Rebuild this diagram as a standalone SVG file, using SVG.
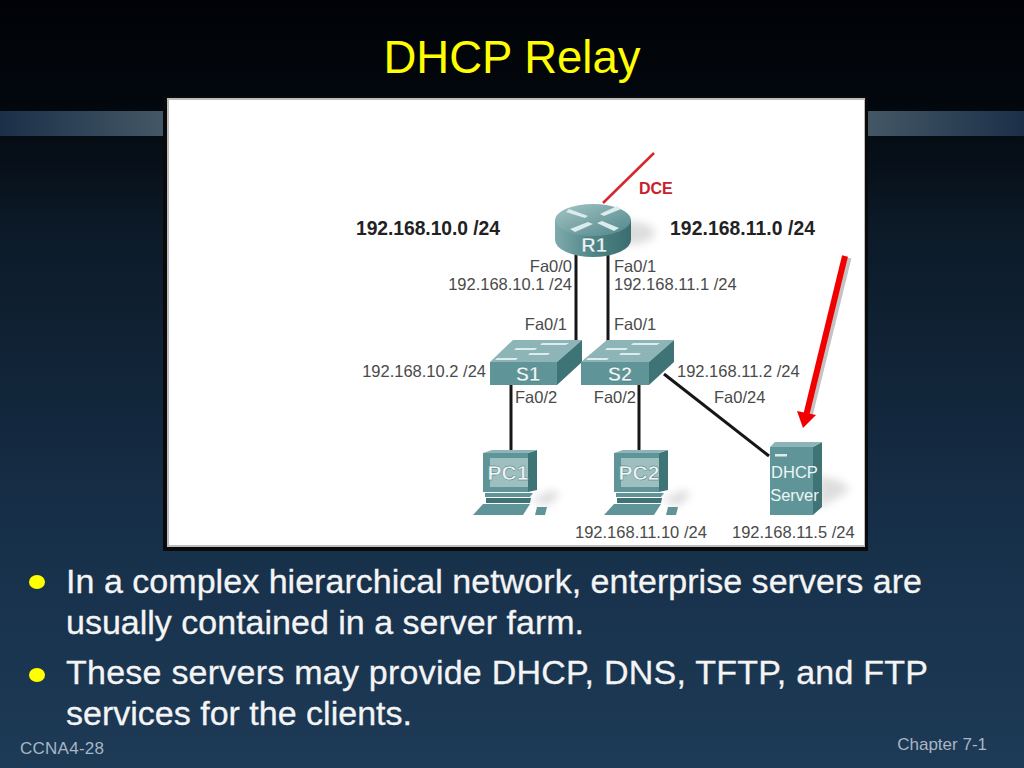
<svg xmlns="http://www.w3.org/2000/svg" width="1024" height="768" viewBox="0 0 1024 768">
<style>
text{font-family:"Liberation Sans",Arial,sans-serif}
.lb{font-size:16.5px;fill:#4a4a4a}
.net{font-size:19.300px;font-weight:bold;fill:#222}
.dev{font-weight:bold;fill:#eef5f5;text-anchor:middle;stroke:#3d6f72;stroke-width:.4px}
.body{font-size:34px;fill:#f4f4f4;stroke:#f4f4f4;stroke-width:.3px}
.foot{font-size:17px;fill:#a9b6c4}
.lnk{stroke:#161616;stroke-width:3;fill:none}
.top{fill:#8db4b6}.front{fill:#5f9598}.side{fill:#3f7477}.scr{fill:#9dbfc0}
.ar{fill:#dcebeb}
</style>
<defs>
<linearGradient id="bg" x1="0" y1="0" x2="0" y2="1">
<stop offset="0" stop-color="#000206"/><stop offset=".14" stop-color="#03080e"/><stop offset=".3" stop-color="#0c1a28"/><stop offset=".7" stop-color="#17304a"/><stop offset="1" stop-color="#1d3a56"/>
</linearGradient>
<linearGradient id="barL" x1="0" y1="0" x2="1" y2="0"><stop offset="0" stop-color="#1b3048"/><stop offset="1" stop-color="#435766"/></linearGradient>
<linearGradient id="barR" x1="0" y1="0" x2="1" y2="0"><stop offset="0" stop-color="#435766"/><stop offset="1" stop-color="#1b3048"/></linearGradient>
<linearGradient id="rside" x1="0" y1="0" x2="1" y2="0"><stop offset="0" stop-color="#7faaac"/><stop offset=".5" stop-color="#4f8588"/><stop offset="1" stop-color="#3a6d70"/></linearGradient>
<linearGradient id="rtop" x1="0" y1="0" x2="1" y2="1"><stop offset="0" stop-color="#a5c5c6"/><stop offset="1" stop-color="#4f8588"/></linearGradient>
<filter id="sh" x="-30%" y="-30%" width="160%" height="160%"><feGaussianBlur stdDeviation="4"/></filter>
<filter id="soft" x="-10%" y="-10%" width="120%" height="120%"><feGaussianBlur stdDeviation=".5"/></filter>
<g id="pcShape">
<path d="M530 500L552 490L560 494L548 506Z" fill="#bbb" opacity=".5" filter="url(#sh)"/>
<path class="side" d="M528 453L537 450V490L528 492Z"/>
<path class="top" d="M483 453L492 450H537L528 453Z"/>
<rect class="front" x="483" y="453" width="45" height="39"/>
<rect class="scr" x="490" y="458" width="38" height="29"/>
<path class="front" d="M485 493H533L530 497H485Z"/>
<path class="side" d="M486 498H531L530 503H486Z"/>
<path class="front" d="M473 515L483 504H530L523 515Z"/>
<path class="front" d="M537 507H547L545 515H535Z"/>
</g>
</defs>
<rect width="1024" height="768" fill="url(#bg)"/>
<rect x="0" y="111" width="163" height="25" fill="url(#barL)"/>
<rect x="868" y="111" width="156" height="25" fill="url(#barR)"/>
<text x="512" y="73" text-anchor="middle" font-size="45.5" fill="#ffff00">DHCP Relay</text>
<rect x="163" y="96" width="705" height="455" fill="#0a0a0a"/>
<rect x="167" y="98" width="698" height="449" fill="#bdbdbd"/>
<rect x="169" y="100" width="695" height="445" fill="#ffffff"/>

<g id="connectors">
<path d="M654 153L603 203" stroke="#d8262c" stroke-width="2.5" fill="none"/>
<path class="lnk" d="M576 254V341"/>
<path class="lnk" d="M608 254V341"/>
<path class="lnk" d="M511 384V453"/>
<path class="lnk" d="M639 384V453"/>
<path class="lnk" d="M664 374L769 456" stroke-width="2.5"/>
</g>

<g id="R1">
<ellipse cx="625" cy="233" rx="30" ry="12" fill="#aaa" opacity=".4" filter="url(#sh)"/>
<path d="M555 220V240A38 17 0 0 0 631 240V220Z" fill="url(#rside)"/>
<ellipse cx="593" cy="220" rx="38" ry="16" fill="url(#rtop)"/>
<path class="ar" d="M569 209L588 216L585 218L566 212ZM617 206L600 214L604 216L621 209ZM588 222L570 229L575 232L593 224ZM597 223L614 231L619 228L602 221Z"/>
<text class="dev" x="594" y="252" font-size="20">R1</text>
</g>

<g id="S1">
<path class="top" d="M513 340H582L557 362H490Z"/>
<rect class="front" x="490" y="362" width="67" height="23"/>
<path class="side" d="M582 340V362L557 385V362Z"/>
<path class="ar" d="M516 348H537L535 350H514ZM542 343H569L566 345H540ZM530 353H550L548 355H528ZM497 358H518L516 360H495Z"/>
<text class="dev" x="528" y="381" font-size="20">S1</text>
</g>
<g id="S2">
<path class="top" d="M607 340H674L649 362H581Z"/>
<rect class="front" x="581" y="362" width="68" height="23"/>
<path class="side" d="M674 340V362L649 385V362Z"/>
<path class="ar" d="M607 348H628L626 350H605ZM633 343H660L657 345H631ZM621 353H641L639 355H619ZM588 358H609L607 360H586Z"/>
<text class="dev" x="620" y="381" font-size="20">S2</text>
</g>

<g id="PC1">
<use href="#pcShape"/>
<text class="dev" x="508" y="480" font-size="21">PC1</text>
</g>
<g id="PC2">
<use href="#pcShape" x="131"/>
<text class="dev" x="639" y="480" font-size="21">PC2</text>
</g>

<g id="DHCP">
<path d="M818 475L842 482L850 490L820 508Z" fill="#bbb" opacity=".5" filter="url(#sh)"/>
<path class="side" d="M813 447L822 442V507L813 515Z"/>
<path class="top" d="M775 442H822L813 447H770Z"/>
<rect class="front" x="770" y="447" width="43" height="68"/>
<rect x="775" y="454" width="12" height="2.5" fill="#dcebeb"/>
<text x="794.500" y="478" font-size="16.500" fill="#eef5f5" text-anchor="middle">DHCP</text>
<text x="794.500" y="501" font-size="16.500" fill="#eef5f5" text-anchor="middle">Server</text>
</g>

<g id="labels">
<text x="639" y="194" font-size="16" font-weight="bold" fill="#c8202c">DCE</text>
<text class="net" x="356" y="235" textLength="144">192.168.10.0 /24</text>
<text class="net" x="670" y="235" textLength="145">192.168.11.0 /24</text>
<text class="lb" x="572" y="272" text-anchor="end">Fa0/0</text>
<text class="lb" x="572" y="290" text-anchor="end">192.168.10.1 /24</text>
<text class="lb" x="614" y="272">Fa0/1</text>
<text class="lb" x="614" y="290">192.168.11.1 /24</text>
<text class="lb" x="567" y="330" text-anchor="end">Fa0/1</text>
<text class="lb" x="614" y="330">Fa0/1</text>
<text class="lb" x="486" y="377" text-anchor="end">192.168.10.2 /24</text>
<text class="lb" x="677" y="377">192.168.11.2 /24</text>
<text class="lb" x="515" y="403">Fa0/2</text>
<text class="lb" x="636" y="403" text-anchor="end">Fa0/2</text>
<text class="lb" x="714" y="403">Fa0/24</text>
<text class="lb" x="575" y="538">192.168.11.10 /24</text>
<text class="lb" x="732" y="538">192.168.11.5 /24</text>
</g>

<g id="arrow">
<path d="M849 258L810 416" stroke="#888" stroke-width="5" opacity=".5" filter="url(#soft)" fill="none"/>
<path d="M845 256L806 416" stroke="#f20000" stroke-width="6" fill="none"/>
<path d="M797 411L816 415L803 428Z" fill="#f20000"/>
</g>

<g id="bullets">
<ellipse cx="37" cy="582" rx="8" ry="7" fill="#ffff00"/>
<ellipse cx="37" cy="675" rx="8" ry="7" fill="#ffff00"/>
<text class="body" x="66" y="593" textLength="856">In a complex hierarchical network, enterprise servers are</text>
<text class="body" x="66" y="634" textLength="518">usually contained in a server farm.</text>
<text class="body" x="66" y="684" textLength="862">These servers may provide DHCP, DNS, TFTP, and FTP</text>
<text class="body" x="66" y="725" textLength="346">services for the clients.</text>
</g>
<text class="foot" x="20" y="754" textLength="84">CCNA4-28</text>
<text class="foot" x="987" y="750" text-anchor="end">Chapter 7-1</text>
</svg>
